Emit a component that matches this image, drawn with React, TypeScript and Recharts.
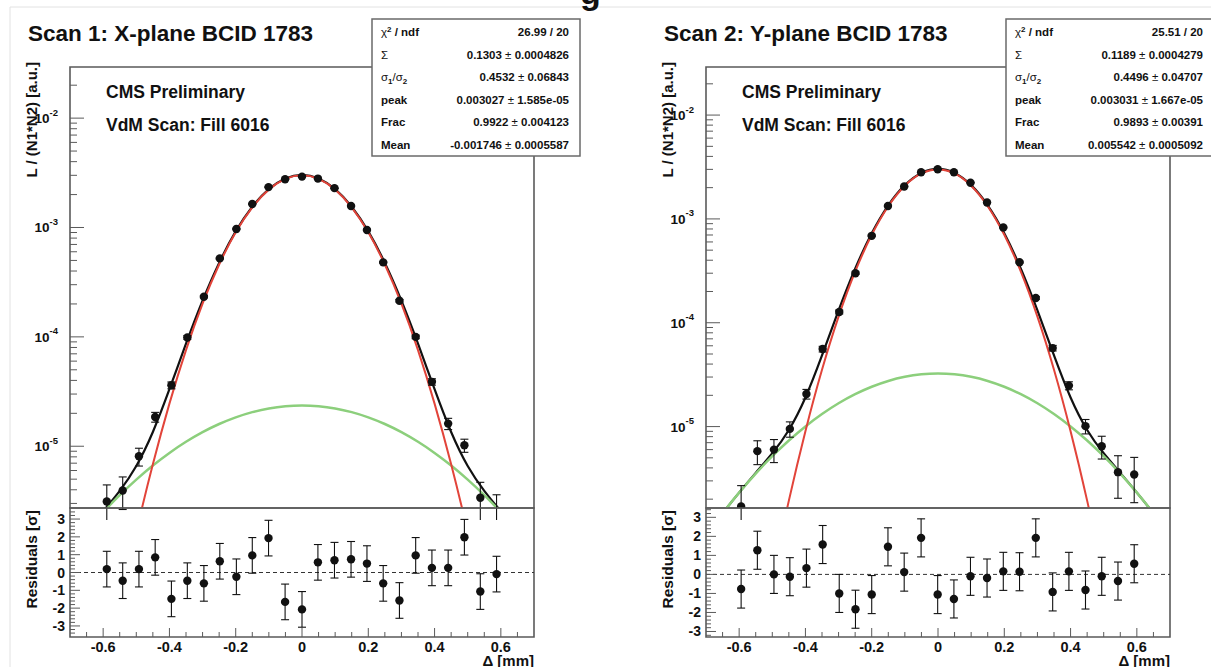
import React from "react";
import {
  ComposedChart,
  Line,
  Scatter,
  XAxis,
  YAxis,
  ErrorBar,
  ReferenceLine,
  ReferenceArea,
} from "recharts";

const FONT = "'Liberation Sans', Arial, Helvetica, sans-serif";
const INK = "#111";
const FRAME = "#5a5a5a";
const RED = "#e2443a";
const GREEN = "#8ccf7c";

// ---------- shared x grids ----------
const curveX = [
  -0.7, -0.65, -0.6, -0.55, -0.5, -0.45, -0.4, -0.35, -0.3, -0.25, -0.2, -0.15, -0.1, -0.05, 0,
  0.05, 0.1, 0.15, 0.2, 0.25, 0.3, 0.35, 0.4, 0.45, 0.5, 0.55, 0.6, 0.65, 0.7,
];
const redX = [
  -0.6, -0.55, -0.5, -0.45, -0.4, -0.35, -0.3, -0.25, -0.2, -0.15, -0.1, -0.05, 0,
  0.05, 0.1, 0.15, 0.2, 0.25, 0.3, 0.35, 0.4, 0.45, 0.5, 0.55, 0.6,
];

// ---------- Scan 1 (X plane) ----------
const scan1PointX = [
  -0.589, -0.541, -0.492, -0.443, -0.394, -0.346, -0.296, -0.248, -0.198, -0.15, -0.101, -0.051, 0,
  0.048, 0.098, 0.148, 0.196, 0.245, 0.294, 0.343, 0.392, 0.441, 0.49, 0.538, 0.587,
];
const scan1Lumi = [
  3.13e-6, 3.94e-6, 8.09e-6, 1.85e-5, 3.61e-5, 9.88e-5, 2.33e-4, 5.22e-4, 9.7e-4, 1.64e-3, 2.34e-3, 2.76e-3, 2.92e-3,
  2.8e-3, 2.29e-3, 1.57e-3, 9.5e-4, 4.8e-4, 2.14e-4, 1.0e-4, 3.88e-5, 1.61e-5, 1.02e-5, 3.38e-6, 2.4e-6,
];
const scan1LumiErr = [
  1.3e-6, 1.3e-6, 1.5e-6, 1.9e-6, 2.6e-6, 3.8e-6, 5.5e-6, 7.5e-6, 1.0e-5, 1.3e-5, 1.5e-5, 1.6e-5, 1.6e-5,
  1.6e-5, 1.5e-5, 1.3e-5, 1.0e-5, 7.5e-6, 5.5e-6, 3.8e-6, 2.6e-6, 1.9e-6, 1.4e-6, 1.3e-6, 1.2e-6,
];
const scan1Resid = [
  0.19, -0.46, 0.19, 0.85, -1.48, -0.46, -0.61, 0.63, -0.24, 0.96, 1.93, -1.65, -2.07,
  0.57, 0.69, 0.74, 0.5, -0.61, -1.57, 0.96, 0.26, 0.26, 1.98, -1.07, -0.09,
];
const scan1ResidErr = [
  1, 1, 1, 1, 1, 1, 1, 1, 1, 1, 1, 1, 1, 1, 1, 1, 1, 1, 1, 1, 1, 1, 1, 1, 1,
];
const scan1Total = [
  1.11e-6, 1.7e-6, 2.55e-6, 3.91e-6, 6.6e-6, 1.351e-5, 3.32e-5, 8.67e-5, 2.145e-4, 4.75e-4, 9.21e-4, 1.548e-3, 2.246e-3, 2.809e-3, 3.027e-3,
  2.809e-3, 2.246e-3, 1.548e-3, 9.21e-4, 4.75e-4, 2.145e-4, 8.67e-5, 3.32e-5, 1.351e-5, 6.6e-6, 3.91e-6, 2.55e-6, 1.7e-6, 1.11e-6,
];
const scan1Wide = [
  1.107e-6, 1.688e-6, 2.494e-6, 3.571e-6, 4.955e-6, 6.67e-6, 8.69e-6, 1.098e-5, 1.345e-5, 1.597e-5, 1.838e-5, 2.051e-5, 2.217e-5, 2.323e-5, 2.36e-5,
  2.323e-5, 2.217e-5, 2.051e-5, 1.838e-5, 1.597e-5, 1.345e-5, 1.098e-5, 8.69e-6, 6.67e-6, 4.955e-6, 3.571e-6, 2.494e-6, 1.688e-6, 1.107e-6,
];
const scan1Narrow = [
  6.0e-8, 3.39e-7, 1.642e-6, 6.84e-6, 2.454e-5, 7.57e-5, 2.01e-4, 4.59e-4, 9.03e-4, 1.527e-3, 2.224e-3, 2.786e-3, 3.003e-3,
  2.786e-3, 2.224e-3, 1.527e-3, 9.03e-4, 4.59e-4, 2.01e-4, 7.57e-5, 2.454e-5, 6.84e-6, 1.642e-6, 3.39e-7, 6.0e-8,
];
const scan1Stats: [string, string, string][] = [
  ["chi", "26.99 / 20", ""],
  ["Sigma", "0.1303", "0.0004826"],
  ["ratio", "0.4532", "0.06843"],
  ["peak", "0.003027", "1.585e-05"],
  ["Frac", "0.9922", "0.004123"],
  ["Mean", "-0.001746", "0.0005587"],
];

// ---------- Scan 2 (Y plane) ----------
const scan2PointX = [
  -0.594, -0.545, -0.495, -0.447, -0.397, -0.348, -0.298, -0.249, -0.2, -0.151, -0.102, -0.051, -0.001,
  0.048, 0.098, 0.148, 0.197, 0.246, 0.295, 0.346, 0.395, 0.445, 0.494, 0.543, 0.592,
];
const scan2Lumi = [
  1.7e-6, 5.8e-6, 6.0e-6, 9.5e-6, 2.06e-5, 5.58e-5, 1.27e-4, 3.0e-4, 6.87e-4, 1.33e-3, 2.05e-3, 2.81e-3, 3.01e-3,
  2.81e-3, 2.23e-3, 1.44e-3, 8.26e-4, 3.83e-4, 1.73e-4, 5.7e-5, 2.48e-5, 1.01e-5, 6.47e-6, 3.64e-6, 3.45e-6,
];
const scan2LumiErr = [
  1.0e-6, 1.5e-6, 1.5e-6, 1.6e-6, 2.2e-6, 3.5e-6, 5.5e-6, 7.5e-6, 1.0e-5, 1.3e-5, 1.5e-5, 1.6e-5, 1.7e-5,
  1.6e-5, 1.5e-5, 1.3e-5, 1.0e-5, 7.5e-6, 5.5e-6, 3.5e-6, 2.2e-6, 1.6e-6, 1.6e-6, 1.6e-6, 1.6e-6,
];
const scan2Resid = [
  -0.77, 1.27, 0.0, -0.12, 0.33, 1.57, -1.0, -1.83, -1.06, 1.45, 0.12, 1.92, -1.06,
  -1.29, -0.1, -0.19, 0.16, 0.14, 1.92, -0.92, 0.16, -0.82, -0.1, -0.35, 0.56,
];
const scan2ResidErr = [
  1, 1, 1, 1, 1, 1, 1, 1, 1, 1, 1, 1, 1, 1, 1, 1, 1, 1, 1, 1, 1, 1, 1, 1, 1,
];
const scan2Total = [
  8.9e-7, 1.46e-6, 2.31e-6, 3.58e-6, 5.53e-6, 9.28e-6, 1.907e-5, 4.845e-5, 1.313e-4, 3.311e-4, 7.269e-4, 1.3532e-3, 2.1166e-3, 2.771e-3, 3.031e-3,
  2.771e-3, 2.1166e-3, 1.3532e-3, 7.269e-4, 3.311e-4, 1.313e-4, 4.845e-5, 1.907e-5, 9.28e-6, 5.53e-6, 3.58e-6, 2.31e-6, 1.46e-6, 8.9e-7,
];
const scan2Wide = [
  8.91e-7, 1.463e-6, 2.314e-6, 3.527e-6, 5.184e-6, 7.344e-6, 1.003e-5, 1.321e-5, 1.676e-5, 2.051e-5, 2.419e-5, 2.75e-5, 3.014e-5, 3.184e-5, 3.243e-5,
  3.184e-5, 3.014e-5, 2.75e-5, 2.419e-5, 2.051e-5, 1.676e-5, 1.321e-5, 1.003e-5, 7.344e-6, 5.184e-6, 3.527e-6, 2.314e-6, 1.463e-6, 8.91e-7,
];
const scan2Narrow = [
  6.4e-9, 5.1e-8, 3.45e-7, 1.936e-6, 9.04e-6, 3.524e-5, 1.145e-4, 3.106e-4, 7.027e-4, 1.3257e-3, 2.0865e-3, 2.739e-3, 2.999e-3,
  2.739e-3, 2.0865e-3, 1.3257e-3, 7.027e-4, 3.106e-4, 1.145e-4, 3.524e-5, 9.04e-6, 1.936e-6, 3.45e-7, 5.1e-8, 6.4e-9,
];
const scan2Stats: [string, string, string][] = [
  ["chi", "25.51 / 20", ""],
  ["Sigma", "0.1189", "0.0004279"],
  ["ratio", "0.4496", "0.04707"],
  ["peak", "0.003031", "1.667e-05"],
  ["Frac", "0.9893", "0.00391"],
  ["Mean", "0.005542", "0.0005092"],
];

// ---------- ticks ----------
const logMajors = [1e-5, 1e-4, 1e-3, 1e-2];
const logMajorExps = ["-5", "-4", "-3", "-2"];
const logMinors = [
  2e-6, 3e-6, 4e-6, 5e-6, 6e-6, 7e-6, 8e-6, 9e-6,
  2e-5, 3e-5, 4e-5, 5e-5, 6e-5, 7e-5, 8e-5, 9e-5,
  2e-4, 3e-4, 4e-4, 5e-4, 6e-4, 7e-4, 8e-4, 9e-4,
  2e-3, 3e-3, 4e-3, 5e-3, 6e-3, 7e-3, 8e-3, 9e-3,
  2e-2,
];
const resMajors = [-3, -2, -1, 0, 1, 2, 3];
const resMajorLabels = ["-3", "-2", "-1", "0", "1", "2", "3"];
const resMinors = [
  -3.4, -3.2, -2.8, -2.6, -2.4, -2.2, -1.8, -1.6, -1.4, -1.2, -0.8, -0.6, -0.4, -0.2,
  0.2, 0.4, 0.6, 0.8, 1.2, 1.4, 1.6, 1.8, 2.2, 2.4, 2.6, 2.8, 3.2, 3.4,
];
const xMajors = [-0.6, -0.4, -0.2, 0, 0.2, 0.4, 0.6];
const xMajorLabels = ["-0.6", "-0.4", "-0.2", "0", "0.2", "0.4", "0.6"];
const xMinors = [
  -0.65, -0.55, -0.5, -0.45, -0.35, -0.3, -0.25, -0.15, -0.1, -0.05,
  0.05, 0.1, 0.15, 0.25, 0.3, 0.35, 0.45, 0.5, 0.55, 0.65,
];

const X_DOMAIN: [number, number] = [-0.7, 0.7];
const YTM = 4; // tick margin used to recover the frame position
const XTM = 2;

type Pt = { x: number; y: number; e?: number };
const zip = (xs: number[], ys: number[], es?: number[]): Pt[] =>
  xs.map((x, i) => (es ? { x, y: ys[i], e: es[i] } : { x, y: ys[i] }));

function LogTick(props: any) {
  const { x, y, payload, majors, exps } = props;
  const i = majors.indexOf(payload.value);
  const x0 = x + YTM;
  if (i < 0) {
    return <line x1={x0} x2={x0 + 7} y1={y} y2={y} stroke={FRAME} strokeWidth={1} />;
  }
  return (
    <g>
      <line x1={x0} x2={x0 + 14} y1={y} y2={y} stroke={FRAME} strokeWidth={1} />
      <text x={x0 - 12} y={y + 5} textAnchor="end" fontSize={13.5} fontWeight="bold" fill={INK} fontFamily={FONT}>
        10<tspan dy={-7.5} fontSize={9.5}>{exps[i]}</tspan>
      </text>
    </g>
  );
}

function ResTick(props: any) {
  const { x, y, payload } = props;
  const i = resMajors.indexOf(payload.value);
  const x0 = x + YTM;
  if (i < 0) {
    return <line x1={x0} x2={x0 + 5} y1={y} y2={y} stroke={FRAME} strokeWidth={1} />;
  }
  return (
    <g>
      <line x1={x0} x2={x0 + 10} y1={y} y2={y} stroke={FRAME} strokeWidth={1} />
      <text x={x0 - 5} y={y + 5} textAnchor="end" fontSize={14} fontWeight="bold" fill={INK} fontFamily={FONT}>
        {resMajorLabels[i]}
      </text>
    </g>
  );
}

function XTick(props: any) {
  const { x, y, payload } = props;
  const i = xMajors.indexOf(payload.value);
  const y0 = y - XTM;
  const len = i >= 0 ? 9 : 5;
  return (
    <g>
      <line x1={x} x2={x} y1={y0} y2={y0 - len} stroke={FRAME} strokeWidth={1} />
      {i >= 0 && (
        <text x={x} y={y0 + 15} textAnchor="middle" fontSize={14.5} fontWeight="bold" fill={INK} fontFamily={FONT}>
          {xMajorLabels[i]}
        </text>
      )}
    </g>
  );
}

const Dot = (p: any) =>
  p.cx == null || p.cy == null ? <g /> : <circle cx={p.cx} cy={p.cy} r={4.2} fill={INK} />;

type PanelProps = {
  left: number;
  yDomain: [number, number];
  rDomain: [number, number];
  pointX: number[];
  lumi: number[];
  lumiErr: number[];
  resid: number[];
  residErr: number[];
  total: number[];
  wide: number[];
  narrow: number[];
};

function Panel(p: PanelProps) {
  const upTicks = [...logMajors, ...logMinors.filter((v) => v >= p.yDomain[0] && v <= p.yDomain[1])];
  const rTicks = [...resMajors, ...resMinors.filter((v) => v >= p.rDomain[0] && v <= p.rDomain[1])];
  const xTicks = [...xMajors, ...xMinors];
  const pts = zip(p.pointX, p.lumi, p.lumiErr);
  const rpts = zip(p.pointX, p.resid, p.residErr);
  return (
    <div style={{ position: "absolute", left: p.left, top: 0, width: 600, height: 667 }}>
      <div style={{ position: "absolute", left: 0, top: 0 }}>
        <ComposedChart width={600} height={520} margin={{ top: 67, right: 66, bottom: 12, left: 10 }}>
          <XAxis type="number" dataKey="x" domain={X_DOMAIN} allowDataOverflow hide />
          <YAxis
            type="number"
            dataKey="y"
            scale="log"
            domain={p.yDomain}
            allowDataOverflow
            width={60}
            ticks={upTicks}
            interval={0}
            tickLine={false}
            axisLine={false}
            tickSize={0}
            tickMargin={YTM}
            tick={(t: any) => <LogTick {...t} majors={logMajors} exps={logMajorExps} />}
          />
          <Line data={zip(curveX, p.total)} dataKey="y" type="natural" stroke={INK} strokeWidth={2.2} dot={false} isAnimationActive={false} />
          <Line data={zip(curveX, p.wide)} dataKey="y" type="natural" stroke={GREEN} strokeWidth={2.5} dot={false} isAnimationActive={false} />
          <Line data={zip(redX, p.narrow)} dataKey="y" type="natural" stroke={RED} strokeWidth={2} dot={false} isAnimationActive={false} />
          <Scatter data={pts} dataKey="y" fill={INK} shape={Dot} isAnimationActive={false}>
            <ErrorBar dataKey="e" direction="y" width={4} stroke={INK} strokeWidth={1.1} />
          </Scatter>
          <ReferenceArea
            x1={X_DOMAIN[0]}
            x2={X_DOMAIN[1]}
            y1={p.yDomain[0]}
            y2={p.yDomain[1]}
            fill="none"
            fillOpacity={0}
            stroke={FRAME}
            strokeWidth={1.6}
            ifOverflow="visible"
          />
        </ComposedChart>
      </div>
      <div style={{ position: "absolute", left: 0, top: 0 }}>
        <ComposedChart width={600} height={667} margin={{ top: 508, right: 66, bottom: 0, left: 10 }}>
          <XAxis
            type="number"
            dataKey="x"
            domain={X_DOMAIN}
            allowDataOverflow
            height={30}
            ticks={xTicks}
            interval={0}
            tickLine={false}
            axisLine={false}
            tickSize={0}
            tickMargin={XTM}
            tick={(t: any) => <XTick {...t} />}
          />
          <YAxis
            type="number"
            dataKey="y"
            domain={p.rDomain}
            allowDataOverflow
            width={60}
            ticks={rTicks}
            interval={0}
            tickLine={false}
            axisLine={false}
            tickSize={0}
            tickMargin={YTM}
            tick={(t: any) => <ResTick {...t} />}
          />
          <ReferenceLine y={0} stroke="#333" strokeWidth={1} strokeDasharray="4 3" />
          <Scatter data={rpts} dataKey="y" fill={INK} shape={Dot} isAnimationActive={false}>
            <ErrorBar dataKey="e" direction="y" width={4} stroke={INK} strokeWidth={1.1} />
          </Scatter>
          <ReferenceArea
            x1={X_DOMAIN[0]}
            x2={X_DOMAIN[1]}
            y1={p.rDomain[0]}
            y2={p.rDomain[1]}
            fill="none"
            fillOpacity={0}
            stroke={FRAME}
            strokeWidth={1.6}
            ifOverflow="visible"
          />
        </ComposedChart>
      </div>
    </div>
  );
}

function StatLabel({ kind }: { kind: string }) {
  if (kind === "chi")
    return (
      <>
        <tspan fontWeight="normal">χ</tspan>
        <tspan dy={-4} fontSize={8}>2</tspan>
        <tspan dy={4}> / ndf</tspan>
      </>
    );
  if (kind === "Sigma") return <tspan fontWeight="normal">Σ</tspan>;
  if (kind === "ratio")
    return (
      <>
        <tspan fontWeight="normal">σ</tspan>
        <tspan dy={3} fontSize={8}>1</tspan>
        <tspan dy={-3} fontWeight="normal">/σ</tspan>
        <tspan dy={3} fontSize={8}>2</tspan>
      </>
    );
  return <tspan>{kind}</tspan>;
}

function StatBox({ x, rows }: { x: number; rows: [string, string, string][] }) {
  const y = 19;
  const w = 208;
  const h = 137;
  return (
    <g fontFamily={FONT} fontSize={11.5} fontWeight="bold" fill={INK}>
      <rect x={x} y={y} width={w} height={h} fill="#fff" stroke="#6a6a6a" strokeWidth={1.5} />
      {rows.map((r, i) => {
        const cy = y + 13 + i * 22.6;
        return (
          <g key={i}>
            <text x={x + 9} y={cy + 4}>
              <StatLabel kind={r[0]} />
            </text>
            <text x={x + w - 11} y={cy + 4} textAnchor="end">
              {r[2] ? (
                <>
                  {r[1]}
                  <tspan fontWeight="normal"> ± </tspan>
                  {r[2]}
                </>
              ) : (
                r[1]
              )}
            </text>
          </g>
        );
      })}
    </g>
  );
}

function Overlay() {
  const panels = [
    { dx: 0, title: "Scan 1: X-plane BCID 1783", stats: scan1Stats, boxX: 372 },
    { dx: 636, title: "Scan 2: Y-plane BCID 1783", stats: scan2Stats, boxX: 1006 },
  ];
  return (
    <svg width={1211} height={667} style={{ position: "absolute", left: 0, top: 0, pointerEvents: "none" }}>
      <line x1={10} y1={7} x2={1211} y2={7} stroke="#e2e2e2" strokeWidth={1} />
      <line x1={10} y1={7} x2={10} y2={667} stroke="#e2e2e2" strokeWidth={1} />
      <text x={580} y={4} fontSize={34} fontWeight="bold" fill={INK} fontFamily={FONT}>g</text>
      {panels.map((pn, k) => (
        <g key={k} fontFamily={FONT} fill={INK} fontWeight="bold">
          <text x={28 + pn.dx} y={41} fontSize={22.5}>{pn.title}</text>
          <text x={106 + pn.dx} y={98} fontSize={17.5}>CMS Preliminary</text>
          <text x={106 + pn.dx} y={131} fontSize={17.5}>VdM Scan: Fill 6016</text>
          <text transform={`translate(${37 + pn.dx},62) rotate(-90)`} textAnchor="end" fontSize={15}>
            L / (N1*N2) [a.u.]
          </text>
          <text transform={`translate(${37 + pn.dx},510) rotate(-90)`} textAnchor="end" fontSize={15.5}>
            Residuals [σ]
          </text>
          <text x={534 + pn.dx} y={666} textAnchor="end" fontSize={15}>Δ [mm]</text>
          <StatBox x={pn.boxX} rows={pn.stats} />
        </g>
      ))}
    </svg>
  );
}

export default function App() {
  return (
    <div style={{ position: "absolute", left: 0, top: 0, width: 1211, height: 667, overflow: "hidden", background: "#fff" }}>
      <Panel
        left={0}
        yDomain={[2.725e-6, 0.02934]}
        rDomain={[-3.62, 3.62]}
        pointX={scan1PointX}
        lumi={scan1Lumi}
        lumiErr={scan1LumiErr}
        resid={scan1Resid}
        residErr={scan1ResidErr}
        total={scan1Total}
        wide={scan1Wide}
        narrow={scan1Narrow}
      />
      <Panel
        left={636}
        yDomain={[1.644e-6, 0.02904]}
        rDomain={[-3.29, 3.49]}
        pointX={scan2PointX}
        lumi={scan2Lumi}
        lumiErr={scan2LumiErr}
        resid={scan2Resid}
        residErr={scan2ResidErr}
        total={scan2Total}
        wide={scan2Wide}
        narrow={scan2Narrow}
      />
      <Overlay />
    </div>
  );
}
